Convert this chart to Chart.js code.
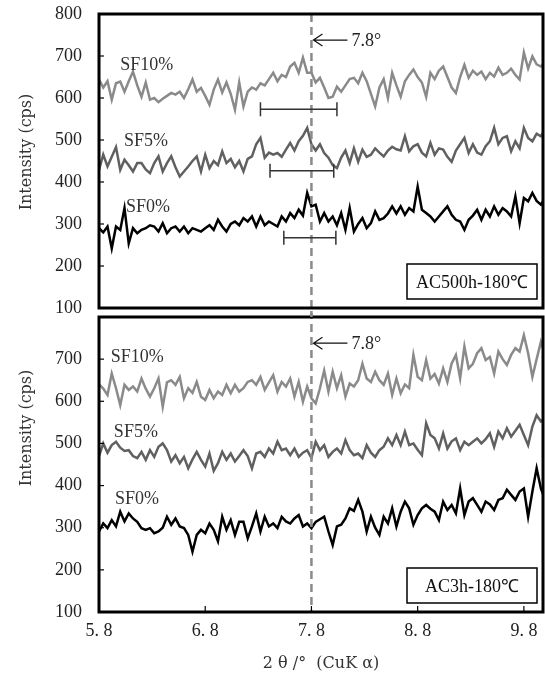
<!DOCTYPE html>
<html>
<head>
    <title>XRD patterns AC500h / AC3h</title>
    <style>
        body { margin: 0; background: #fff; }
        #wrap { position: relative; width: 545px; height: 681px; }
        .panel { position: absolute; left: 0; width: 545px; }
        #topBox { top: 0; height: 322px; z-index: 2; }
        #botBox { top: 311px; height: 370px; z-index: 1; }
    </style>
    <script src="https://cdn.jsdelivr.net/npm/chart.js"></script>
</head>
<body>
<div id="wrap">
    <div id="topBox" class="panel"><canvas id="topChart"></canvas></div>
    <div id="botBox" class="panel"><canvas id="botChart"></canvas></div>
</div>
<script>
// scan grid, 2theta in degrees (0.04 deg steps)
var START = 5.8, STEP = 0.04, N = 106;
var twoTheta = [];
for (var i = 0; i < N; i++) twoTheta.push(+(START + STEP * i).toFixed(2));

var seriesNames = ['SF10%', 'SF5%', 'SF0%'];
var xTickValues = [5.8, 6.8, 7.8, 8.8, 9.8];
var yTickValues = [100, 200, 300, 400, 500, 600, 700, 800];
var peakPos = 7.8;

// AC500h-180℃ (upper panel)
var ac500_sf10 = [
    644, 625, 640, 596, 635, 639, 615, 640, 663, 630,
    603, 637, 596, 600, 590, 598, 605, 612, 608, 615,
    600, 621, 644, 615, 624, 605, 584, 620, 644, 613,
    637, 610, 572, 637, 580, 615, 625, 620, 635, 630,
    645, 660, 640, 655, 650, 675, 684, 660, 696, 660,
    660, 637, 648, 625, 600, 603, 627, 615, 630, 645,
    648, 635, 660, 640, 610, 580, 625, 645, 600, 660,
    630, 603, 640, 655, 668, 650, 637, 603, 660, 645,
    665, 675, 650, 625, 612, 650, 679, 648, 665, 655,
    663, 645, 660, 651, 672, 655, 660, 670, 655, 644,
    708, 670, 699, 680, 675, 685
];
var ac500_sf5 = [
    429, 465, 437, 460, 483, 429, 453, 440, 425, 445,
    445, 430, 421, 445, 461, 425, 445, 461, 435, 413,
    425, 437, 450, 461, 425, 465, 433, 450, 440, 473,
    445, 455, 435, 450, 425, 455, 461, 490, 505, 458,
    470, 465, 469, 460, 477, 493, 475, 497, 510, 529,
    490, 475, 490, 469, 458, 440, 433, 458, 475, 445,
    480, 448, 477, 460, 465, 480, 470, 461, 475, 484,
    478, 475, 509, 473, 485, 490, 470, 461, 493, 465,
    480, 477, 460, 448, 475, 490, 505, 469, 490, 470,
    465, 485, 497, 529, 490, 505, 509, 473, 497, 480,
    529, 505, 497, 515, 509, 525
];
var ac500_sf0 = [
    290, 280, 294, 242, 294, 286, 338, 254, 290, 278,
    286, 290, 297, 294, 282, 302, 278, 290, 294, 282,
    294, 278, 290, 286, 282, 290, 297, 286, 310, 294,
    282, 300, 306, 297, 314, 306, 318, 294, 318, 297,
    306, 300, 294, 318, 306, 326, 314, 334, 320, 374,
    342, 346, 306, 326, 306, 318, 297, 326, 286, 338,
    282, 300, 314, 290, 302, 330, 310, 314, 325, 342,
    325, 342, 322, 338, 330, 389, 334, 326, 318, 306,
    318, 330, 342, 322, 310, 306, 286, 310, 320, 334,
    310, 334, 318, 342, 322, 338, 330, 318, 366, 302,
    362, 354, 374, 355, 346, 362
];

// AC3h-180℃ (lower panel)
var ac3_sf10 = [
    640, 630, 615, 666, 631, 591, 639, 627, 635, 623,
    654, 630, 611, 631, 654, 587, 645, 650, 639, 658,
    607, 631, 620, 646, 611, 603, 627, 607, 623, 615,
    639, 619, 639, 623, 631, 646, 650, 639, 658, 627,
    645, 662, 623, 646, 635, 654, 611, 646, 599, 635,
    607, 595, 631, 673, 623, 670, 631, 662, 611, 642,
    635, 650, 689, 654, 646, 670, 650, 639, 666, 615,
    654, 619, 640, 631, 710, 658, 650, 698, 654, 665,
    642, 678, 646, 690, 710, 654, 730, 678, 689, 714,
    726, 698, 705, 666, 718, 700, 686, 710, 726, 718,
    757, 714, 658, 700, 741, 710
];
var ac3_sf5 = [
    470, 500, 478, 496, 504, 490, 482, 484, 470, 465,
    480, 461, 484, 468, 492, 500, 484, 457, 472, 453,
    468, 441, 462, 480, 461, 445, 476, 435, 453, 480,
    461, 476, 457, 470, 484, 470, 441, 476, 480, 468,
    488, 476, 504, 484, 488, 472, 488, 468, 478, 484,
    465, 504, 484, 496, 468, 480, 488, 476, 508, 484,
    472, 476, 465, 496, 478, 468, 484, 492, 512, 496,
    520, 496, 528, 496, 500, 485, 472, 548, 520, 512,
    488, 524, 488, 505, 512, 484, 504, 496, 504, 512,
    500, 510, 524, 492, 528, 512, 536, 516, 530, 544,
    520, 496, 540, 567, 552, 560
];
var ac3_sf0 = [
    291, 310, 299, 318, 303, 338, 315, 334, 322, 314,
    299, 295, 299, 287, 291, 300, 326, 307, 322, 303,
    299, 283, 243, 283, 295, 287, 310, 295, 268, 326,
    295, 318, 283, 314, 314, 275, 303, 334, 291, 326,
    303, 310, 299, 326, 315, 310, 322, 330, 303, 310,
    299, 314, 320, 326, 291, 259, 303, 307, 322, 346,
    340, 366, 338, 291, 326, 300, 283, 326, 310, 346,
    303, 338, 362, 346, 307, 330, 346, 354, 345, 338,
    318, 362, 342, 354, 334, 393, 330, 362, 370, 354,
    338, 362, 355, 342, 366, 370, 390, 378, 366, 386,
    393, 326, 386, 441, 393, 366
];

// horizontal range bars in the upper panel (SF10%, SF5%, SF0%)
var barFrom = [7.32, 7.41, 7.54];
var barTo = [8.04, 8.01, 8.03];
var barLevel = [573, 427, 267];

var seriesColors = ['#8a8a8a', '#606060', '#000000'];
var serif = "'Liberation Serif', 'Times New Roman', serif";
var wideSerif = "'DejaVu Serif', serif";

function pairUp(vals) {
    return vals.map(function (v, i) { return { x: twoTheta[i], y: v }; });
}

// draws frame, inner ticks, the 7.8 marker and the text labels
var decoPlugin = {
    id: 'deco',
    afterDatasetsDraw: function (chart, args, o) {
        var ctx = chart.ctx, a = chart.chartArea;
        var xs = chart.scales.x, ys = chart.scales.y;
        ctx.save();

        // dashed marker line at 7.8
        var px = xs.getPixelForValue(peakPos);
        ctx.strokeStyle = '#8a8a8a';
        ctx.lineWidth = 2.5;
        ctx.setLineDash([8, 5]);
        ctx.beginPath();
        ctx.moveTo(px, o.dashFromEdge ? 0 : a.top);
        ctx.lineTo(px, o.dashToEdge ? a.bottom + 9 : a.bottom);
        ctx.stroke();
        ctx.setLineDash([]);

        // range bars
        if (o.bars) {
            ctx.strokeStyle = '#333';
            ctx.lineWidth = 1.5;
            for (var b = 0; b < barFrom.length; b++) {
                var x1 = xs.getPixelForValue(barFrom[b]);
                var x2 = xs.getPixelForValue(barTo[b]);
                var by = ys.getPixelForValue(barLevel[b]);
                ctx.beginPath();
                ctx.moveTo(x1, by); ctx.lineTo(x2, by);
                ctx.moveTo(x1, by - 7); ctx.lineTo(x1, by + 7);
                ctx.moveTo(x2, by - 7); ctx.lineTo(x2, by + 7);
                ctx.stroke();
            }
        }

        // arrow + 7.8 text
        var ay = ys.getPixelForValue(o.arrowLevel);
        ctx.strokeStyle = '#111';
        ctx.lineWidth = 1.2;
        ctx.beginPath();
        ctx.moveTo(px + 2, ay); ctx.lineTo(px + 36, ay);
        ctx.moveTo(px + 11, ay - 6); ctx.lineTo(px + 2, ay); ctx.lineTo(px + 11, ay + 6);
        ctx.stroke();
        ctx.fillStyle = '#222';
        ctx.font = '18px ' + serif;
        ctx.textAlign = 'left';
        ctx.textBaseline = 'middle';
        ctx.fillText('7.8°', px + 40, ay + 1);

        // series names
        ctx.fillStyle = '#333';
        for (var s = 0; s < seriesNames.length; s++) {
            ctx.fillText(seriesNames[s], xs.getPixelForValue(o.labelX[s]), ys.getPixelForValue(o.labelY[s]));
        }

        // sample box
        var bw = 130, bh = 35;
        var bx = a.right - 6 - bw, byTop = a.bottom - 9 - bh;
        ctx.fillStyle = '#fff';
        ctx.fillRect(bx, byTop, bw, bh);
        ctx.strokeStyle = '#000';
        ctx.lineWidth = 1.5;
        ctx.strokeRect(bx, byTop, bw, bh);
        ctx.fillStyle = '#111';
        ctx.textAlign = 'center';
        ctx.fillText(o.boxText, bx + bw / 2, byTop + bh / 2 + 2);

        // y title
        ctx.save();
        ctx.translate(27, o.titleY);
        ctx.rotate(-Math.PI / 2);
        ctx.font = '16px ' + wideSerif;
        ctx.fillStyle = '#333';
        ctx.fillText('Intensity (cps)', 0, 0);
        ctx.restore();

        // inward tick marks
        ctx.strokeStyle = '#000';
        ctx.lineWidth = 1.2;
        ys.ticks.forEach(function (t) {
            var py = ys.getPixelForValue(t.value);
            if (py > a.top + 3 && py < a.bottom - 3) {
                ctx.beginPath(); ctx.moveTo(a.left, py); ctx.lineTo(a.left + 5, py); ctx.stroke();
            }
        });
        if (o.xTicks) {
            xTickValues.forEach(function (v) {
                var tx = xs.getPixelForValue(v);
                if (tx > a.left + 3 && tx < a.right - 3) {
                    ctx.beginPath(); ctx.moveTo(tx, a.bottom); ctx.lineTo(tx, a.bottom - 6); ctx.stroke();
                }
            });
        }

        // panel frame
        ctx.lineWidth = 3;
        ctx.strokeRect(a.left, a.top, a.right - a.left, a.bottom - a.top);
        ctx.restore();
    }
};

function makePanel(canvasId, data, showX, deco, pad) {
    var datasets = data.map(function (vals, k) {
        return {
            label: seriesNames[k],
            data: pairUp(vals),
            borderColor: seriesColors[k],
            borderWidth: 2.5,
            pointRadius: 0,
            tension: 0,
            fill: false
        };
    });
    return new Chart(document.getElementById(canvasId), {
        type: 'line',
        data: { datasets: datasets },
        plugins: [decoPlugin],
        options: {
            responsive: true,
            maintainAspectRatio: false,
            animation: false,
            layout: { padding: pad },
            plugins: { legend: { display: false }, tooltip: { enabled: false }, deco: deco },
            scales: {
                x: {
                    type: 'linear',
                    min: 5.8,
                    max: 9.98,
                    display: showX,
                    // grid hidden; tickLength only spaces the labels from the frame
                    grid: { display: false, drawTicks: true, tickLength: 8 },
                    border: { display: false },
                    afterBuildTicks: function (scale) {
                        scale.ticks = xTickValues.map(function (v) { return { value: v }; });
                    },
                    afterFit: function (scale) {
                        if (showX) scale.height = 69;
                        scale.paddingLeft = 0;
                        scale.paddingRight = 0;
                    },
                    ticks: {
                        padding: 0,
                        color: '#222',
                        font: { family: serif, size: 18 },
                        maxRotation: 0,
                        callback: function (v) { return v.toFixed(1).replace('.', '. '); }
                    },
                    title: {
                        display: showX,
                        text: '2 θ /°  (CuK α)',
                        color: '#333',
                        font: { family: wideSerif, size: 16 },
                        padding: { top: 0, bottom: 8 }
                    }
                },
                y: {
                    min: 100,
                    max: 800,
                    grid: { display: false, drawTicks: true, tickLength: 17 },
                    border: { display: false },
                    afterBuildTicks: function (scale) {
                        scale.ticks = yTickValues.filter(function (v) {
                            return showX ? v < 800 : true;
                        }).map(function (v) { return { value: v }; });
                    },
                    afterFit: function (scale) {
                        scale.width = 99;
                        scale.paddingTop = 0;
                        scale.paddingBottom = 0;
                    },
                    ticks: {
                        padding: 0,
                        color: '#222',
                        font: { family: serif, size: 18 }
                    }
                }
            }
        }
    });
}

makePanel('topChart', [ac500_sf10, ac500_sf5, ac500_sf0], false, {
    bars: true,
    dashFromEdge: false,
    dashToEdge: true,
    arrowLevel: 738,
    labelX: [6.0, 6.035, 6.055],
    labelY: [677, 498, 340],
    boxText: 'AC500h-180℃',
    titleY: 152,
    xTicks: false
}, { top: 14, right: 2, bottom: 14, left: 0 });

makePanel('botChart', [ac3_sf10, ac3_sf5, ac3_sf0], true, {
    bars: false,
    dashFromEdge: true,
    dashToEdge: false,
    arrowLevel: 738,
    labelX: [5.91, 5.94, 5.95],
    labelY: [704, 526, 368],
    boxText: 'AC3h-180℃',
    titleY: 117,
    xTicks: true
}, { top: 6, right: 2, bottom: 0, left: 0 });
</script>
</body>
</html>
